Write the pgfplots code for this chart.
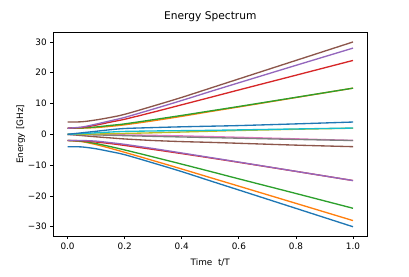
\documentclass[border=0pt]{standalone}
\usepackage{fontspec}
\setmainfont{DejaVu Sans}
\usepackage{pgfplots}
\usepackage{pgfplotstable}
\pgfplotsset{compat=1.18}
\definecolor{C0}{HTML}{1F77B4}
\definecolor{C1}{HTML}{FF7F0E}
\definecolor{C2}{HTML}{2CA02C}
\definecolor{C3}{HTML}{D62728}
\definecolor{C4}{HTML}{9467BD}
\definecolor{C5}{HTML}{8C564B}
\definecolor{C6}{HTML}{E377C2}
\definecolor{C7}{HTML}{7F7F7F}
\definecolor{C8}{HTML}{BCBD22}
\definecolor{C9}{HTML}{17BECF}
\pgfplotstableread{
t     a0     a1     a2     a3     a4     a5     a6     a7     a8     a9     a10   a11   a12   a13   a14   a15
0     -4     -2     -2     -2     -2     0      0      0      0      0      0     2     2     2     2     4
0.05  -4.085 -2.36  -2.25  -2.1   -2.0   -0.4   -0.03  -0.08  0.05   0.25   0.5   2.02  2.08  2.25  2.36  4.085
0.1   -4.69  -3.33  -3.0   -2.5   -2.2   -0.8   -0.07  -0.18  0.12   0.5    1.0   2.2   2.4   3.0   3.33  4.69
0.15  -5.6   -4.53  -3.98  -3.0   -2.7   -1.15  -0.12  -0.3   0.2    0.75   1.5   2.6   2.9   3.98  4.4   5.5
0.2   -6.6   -5.83  -5.06  -3.6   -3.25  -1.5   -0.18  -0.42  0.3    0.95   1.9   3.1   3.4   4.9   5.5   6.5
0.3   -9.3   -8.52  -7.33  -4.9   -4.6   -2.0   -0.32  -0.65  0.5    1.1    2.2   4.4   4.75  7.2   8.2   9.2
0.4   -12.1  -11.25 -9.67  -6.25  -6.05  -2.35  -0.5   -0.85  0.75   1.2    2.45  5.85  6.15  9.6   11.0  12.0
0.5   -15.1  -14.04 -12.04 -7.65  -7.52  -2.6   -0.72  -1.05  1.0    1.3    2.65  7.4   7.6   12.0  13.9  15.0
0.6   -18.07 -16.82 -14.45 -9.08  -9.0   -2.9   -0.95  -1.25  1.25   1.45   2.85  8.9   9.05  14.42 16.75 18.0
0.8   -24.03 -22.4  -19.2  -12.02 -12.0  -3.5   -1.45  -1.65  1.65   1.75   3.4   11.95 12.02 19.2  22.4  24.0
1.0   -30    -28    -24    -15    -15    -4     -1.97  -2.0   2.0    2.05   4.0   15    15    24    28    30
}\spectrum
\begin{document}
\begin{tikzpicture}
\path[use as bounding box] (-53.3bp,-41bp) rectangle (355.7bp,236bp);
\begin{axis}[
  at={(0,0)}, anchor=south west,
  scale only axis, width=314bp, height=203.3bp,
  xmin=-0.05, xmax=1.05, ymin=-33, ymax=33,
  axis line style={line width=0.7bp},
  tick align=outside, major tick length=3.1bp,
  tick style={line width=0.7bp, black},
  tick pos=left,
  xtick={0,0.2,0.4,0.6,0.8,1.0}, xticklabels={0.0,0.2,0.4,0.6,0.8,1.0},
  ytick={-30,-20,-10,0,10,20,30}, yticklabels={−30,−20,−10,0,10,20,30},
  ticklabel style={font=\fontsize{8.9}{10}\selectfont},
  title={Energy Spectrum},
  title style={font=\fontsize{10.7}{12}\selectfont, at={(axis description cs:0.5,1)}, anchor=south, inner sep=0pt, yshift=5.3bp},
  xlabel={Time~~t/T}, ylabel={Energy [GHz]},
  label style={font=\fontsize{8.9}{10}\selectfont},
  xlabel style={at={(axis description cs:0.5,-0.1328)}, anchor=center},
  ylabel style={at={(axis description cs:-0.1038,0.5)}, anchor=center, rotate=0},
  every axis plot/.append style={line width=1.33bp, smooth, tension=0.5},
]
\addplot[C0] table[x=t,y=a0] {\spectrum};
\addplot[C1] table[x=t,y=a1] {\spectrum};
\addplot[C2] table[x=t,y=a2] {\spectrum};
\addplot[C3] table[x=t,y=a3] {\spectrum};
\addplot[C4] table[x=t,y=a4] {\spectrum};
\addplot[C5] table[x=t,y=a5] {\spectrum};
\addplot[C6] table[x=t,y=a6] {\spectrum};
\addplot[C7] table[x=t,y=a7] {\spectrum};
\addplot[C8] table[x=t,y=a8] {\spectrum};
\addplot[C9] table[x=t,y=a9] {\spectrum};
\addplot[C0] table[x=t,y=a10] {\spectrum};
\addplot[C1] table[x=t,y=a11] {\spectrum};
\addplot[C2] table[x=t,y=a12] {\spectrum};
\addplot[C3] table[x=t,y=a13] {\spectrum};
\addplot[C4] table[x=t,y=a14] {\spectrum};
\addplot[C5] table[x=t,y=a15] {\spectrum};
\end{axis}
\end{tikzpicture}
\end{document}
